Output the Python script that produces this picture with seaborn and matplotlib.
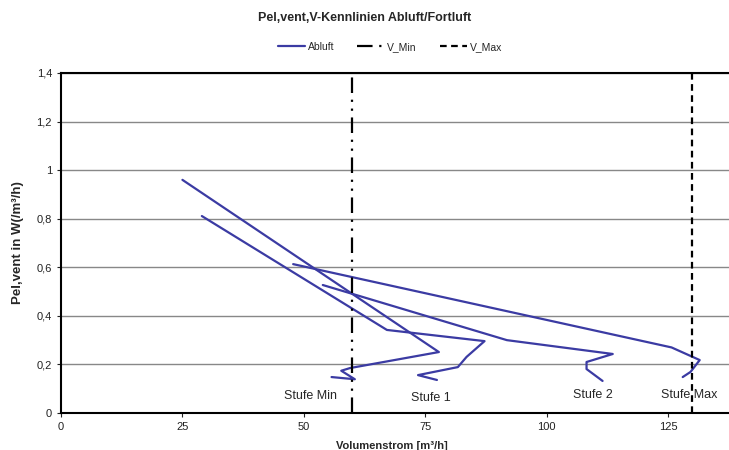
import matplotlib
matplotlib.use('Agg')
import matplotlib.pyplot as plt
from matplotlib.lines import Line2D
import seaborn as sns
import pandas as pd

# Kennlinien (Volumenstrom m3/h, Pel,vent W/(m3/h))
stufe_min_x = [25.0, 77.8, 59.5, 57.7, 60.5, 55.7]
stufe_min_y = [0.96, 0.251, 0.185, 0.174, 0.139, 0.148]
stufe_1_x = [29.0, 67.1, 87.2, 83.5, 81.7, 73.5, 77.4]
stufe_1_y = [0.811, 0.342, 0.296, 0.231, 0.189, 0.156, 0.136]
stufe_2_x = [53.9, 91.8, 113.6, 108.2, 108.2, 111.5]
stufe_2_y = [0.527, 0.30, 0.243, 0.21, 0.181, 0.132]
stufe_max_x = [47.8, 125.7, 131.5, 129.6, 128.0]
stufe_max_y = [0.613, 0.27, 0.218, 0.169, 0.148]

v_min = 60
v_max = 130

stufen = ['Stufe Min', 'Stufe 1', 'Stufe 2', 'Stufe Max']
label_x = [51.4, 76.1, 109.5, 129.4]
label_y = [0.07, 0.062, 0.074, 0.074]

rows = []
for name, xs, ys in zip(stufen,
                        [stufe_min_x, stufe_1_x, stufe_2_x, stufe_max_x],
                        [stufe_min_y, stufe_1_y, stufe_2_y, stufe_max_y]):
    for i, (x, y) in enumerate(zip(xs, ys)):
        rows.append({'stufe': name, 'idx': i, 'V': x, 'P': y})
df = pd.DataFrame(rows)

sns.set_style('white')
plt.rcParams['font.family'] = ['Liberation Sans', 'DejaVu Sans']

fig = plt.figure(figsize=(7.29, 4.5), dpi=100)
ax = fig.add_axes([61 / 729, 37 / 450, 680 / 729, 340 / 450])

ax.set_xlim(0, 140)
ax.set_ylim(0, 1.4)
ax.set_yticks([0, 0.2, 0.4, 0.6, 0.8, 1.0, 1.2, 1.4])
ax.set_yticklabels(['0', '0,2', '0,4', '0,6', '0,8', '1', '1,2', '1,4'])
ax.set_xticks([0, 25, 50, 75, 100, 125])
ax.yaxis.grid(True, color='#888888', lw=1)
ax.set_axisbelow(True)

line_col = '#3b3ba3'
sns.lineplot(data=df, x='V', y='P', units='stufe', estimator=None, sort=False,
             color=line_col, lw=1.6, ax=ax, legend=False)

ax.axvline(v_min, color='black', lw=1.6, ls=(0, (7, 3, 1, 3, 1, 3)))
ax.axvline(v_max, color='black', lw=1.6, ls=(0, (3, 2)))

for name, x, y in zip(stufen, label_x, label_y):
    ax.text(x, y, name, ha='center', va='center', fontsize=9)

for s in ['left', 'bottom', 'top']:
    ax.spines[s].set_color('black')
    ax.spines[s].set_linewidth(1.5)
ax.spines['right'].set_visible(False)
ax.tick_params(axis='both', direction='out', length=3, width=0.8, labelsize=8,
               colors='#222222', bottom=True, left=True)
ax.set_xlabel('')
ax.set_ylabel('')

fig.text(0.5, 0.96, 'Pel,vent,V-Kennlinien Abluft/Fortluft', ha='center', va='center',
         fontsize=9, fontweight='bold')
fig.text(392 / 729, 1 - 446 / 450, 'Volumenstrom [m³/h]', ha='center', va='center',
         fontsize=8, fontweight='bold')
fig.text(18 / 729, 1 - 243 / 450, 'Pel,vent in W(/m³/h)', ha='center', va='center',
         rotation=90, fontsize=9.5, fontweight='bold')

handles = [
    Line2D([], [], color=line_col, lw=1.6),
    Line2D([], [], color='black', lw=1.6, ls=(0, (7, 3, 1, 3, 1, 3))),
    Line2D([], [], color='black', lw=1.6, ls=(0, (3, 2))),
]
fig.legend(handles, ['Abluft', 'V_Min', 'V_Max'], loc='center',
           bbox_to_anchor=(390 / 729, 1 - 47 / 450), ncol=3, frameon=False,
           fontsize=7.5, handlelength=2.6, handletextpad=0.3, columnspacing=2.2)

fig.savefig('out.png', dpi=100)
